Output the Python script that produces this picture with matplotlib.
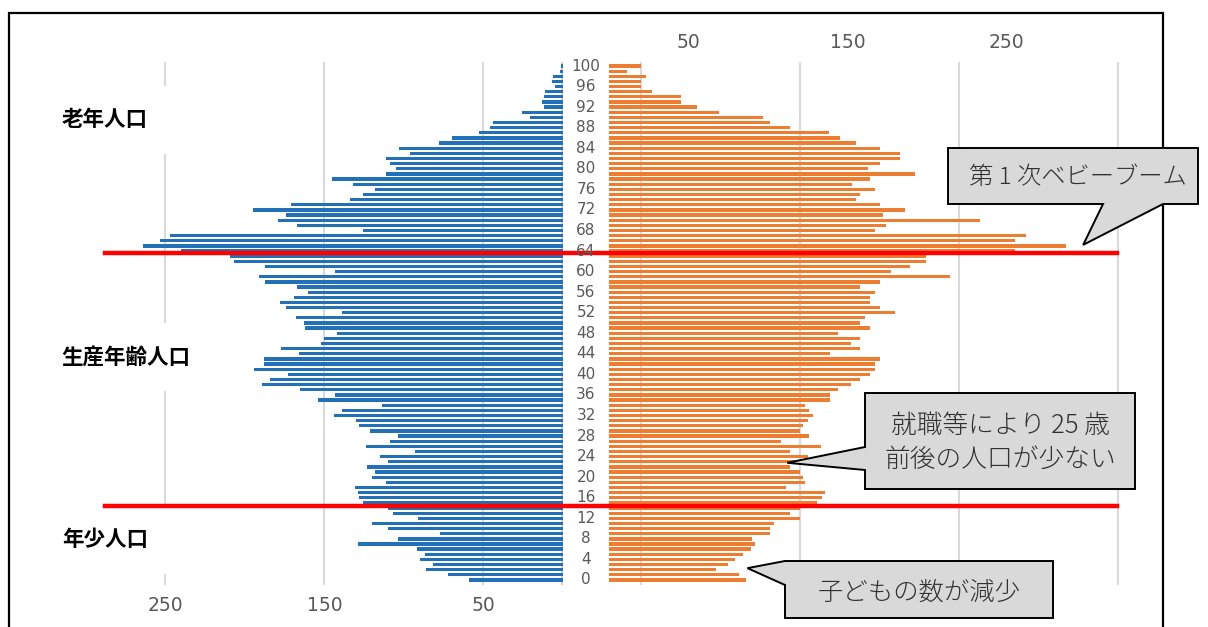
import numpy as np
import matplotlib
matplotlib.use("Agg")
import matplotlib.pyplot as plt
from matplotlib import transforms
from matplotlib.lines import Line2D
from matplotlib.patches import Polygon, Rectangle

plt.rcParams['font.family'] = ['Noto Sans CJK JP', 'DejaVu Sans']

# ---- data (age 0 .. 100) ----
ages = np.arange(0, 101)

male = [59, 72, 86, 82, 90, 87, 92, 129, 104, 77,      # 0-9
        110, 120, 91, 107, 110, 126, 128, 129, 131, 111,  # 10-19
        120, 118, 123, 110, 115, 93, 124, 109, 104, 121,  # 20-29
        128, 130, 144, 139, 114, 154, 143, 165, 189, 184,  # 30-39
        173, 194, 188, 188, 166, 177, 152, 150, 142, 162,  # 40-49
        163, 168, 139, 174, 178, 169, 160, 167, 187, 191,  # 50-59
        143, 187, 207, 209, 240, 264, 253, 247, 126, 167,  # 60-69
        179, 174, 195, 171, 134, 126, 118, 132, 145, 111,  # 70-79
        105, 109, 111, 96, 103, 78, 70, 53, 46, 44,        # 80-89
        21, 26, 12, 13, 12, 11, 5, 7, 6, 2, 1]             # 90-100

female = [86, 82, 67, 75, 79, 84, 89, 92, 90, 101,        # 0-9
          101, 104, 120, 114, 120, 131, 134, 136, 111, 123,  # 10-19
          122, 120, 114, 120, 125, 114, 133, 108, 126, 120,  # 20-29
          122, 125, 128, 126, 123, 139, 139, 144, 152, 158,  # 30-39
          164, 167, 167, 170, 139, 158, 152, 158, 144, 164,  # 40-49
          158, 161, 180, 170, 164, 164, 167, 158, 170, 214,  # 50-59
          177, 189, 199, 199, 255, 287, 255, 262, 167, 174,  # 60-69
          233, 172, 186, 170, 155, 158, 167, 153, 164, 192,  # 70-79
          163, 170, 183, 183, 170, 155, 145, 138, 114, 101,  # 80-89
          97, 69, 55, 45, 45, 27, 20, 20, 23, 11, 20]        # 90-100

age_ticks = list(range(0, 101, 4))
left_ticks = [250, 150, 50]
right_labels = [50, 150, 250]
right_grid = [20, 120, 220, 320]

group_labels = ["老年人口", "生産年齢人口", "年少人口"]
group_label_age = [89.5, 43.4, 7.8]
boundaries = [63.6, 14.4]

blue = "#2271b8"
orange = "#ed7d31"
grid_c = "#d9d9d9"
tick_c = "#595959"
num_font = ['Liberation Sans Narrow', 'DejaVu Sans']

W, H = 1208, 627
fig = plt.figure(figsize=(W / 100, H / 100), dpi=100)


def fbox(x0, x1, y_top, y_bot):
    return [x0 / W, 1 - y_bot / H, (x1 - x0) / W, (y_bot - y_top) / H]


y_lo, y_hi = -0.9, 100.8
ax_l = fig.add_axes(fbox(22, 563, 61.9, 584.6))
ax_r = fig.add_axes(fbox(609, 1150, 61.9, 584.6))

ax_l.barh(ages, male, height=0.64, color=blue, zorder=2)
ax_r.barh(ages, female, height=0.64, color=orange, zorder=2)

for ax in (ax_l, ax_r):
    ax.set_ylim(y_lo, y_hi)
    ax.set_yticks([])
    for s in ax.spines.values():
        s.set_visible(False)
    ax.tick_params(length=0, labelcolor=tick_c, labelsize=13.5)
    ax.set_facecolor("none")

ax_l.set_xlim(340, 0)
ax_l.set_xticks(left_ticks)
ax_l.set_xticklabels([str(v) for v in left_ticks], fontfamily=num_font)
ax_l.tick_params(axis='x', pad=8)
ax_l.grid(axis='x', color=grid_c, lw=1.5, zorder=0)
ax_l.axvline(0, color="#d0d0d0", lw=3, zorder=1)

ax_r.set_xlim(0, 340)
ax_r.xaxis.set_ticks_position('top')
ax_r.set_xticks(right_labels)
ax_r.set_xticklabels([str(v) for v in right_labels], fontfamily=num_font)
ax_r.set_xticks(right_grid, minor=True)
ax_r.tick_params(axis='x', which='both', length=0, pad=7)
ax_r.grid(axis='x', which='minor', color=grid_c, lw=1.5, zorder=0)
ax_r.grid(axis='x', which='major', visible=False)

# age labels in the gap
tr_age = transforms.blended_transform_factory(fig.transFigure, ax_l.transData)
for a in age_ticks:
    fig.text(586 / W, a, str(a), transform=tr_age, ha='center', va='center',
             fontsize=11, color=tick_c, fontfamily=num_font)

# group labels (white boxes hide the gridline)
for lab, a in zip(group_labels, group_label_age):
    ax_l.text(315, a, lab, ha='left', va='center', fontsize=15.5,
              fontweight='bold', color='black', zorder=3,
              bbox=dict(facecolor='white', edgecolor='none', pad=17))

# red boundary lines
for b in boundaries:
    fig.add_artist(Line2D([105 / W, 1117 / W], [b, b], transform=tr_age,
                          color='red', lw=3.2, zorder=3))

# outer frame
fig.add_artist(Rectangle((9 / W, -0.05), (1163 - 9) / W, 1 - 13 / H + 0.05,
                         transform=fig.transFigure, fill=False,
                         edgecolor='black', lw=1.6, zorder=0.5))


def callout(pts, tip_xy, tip_idx, text, tx, ty, size):
    tip = ax_r.transData.transform(tip_xy)
    tip = (tip[0], H - tip[1])
    pts = list(pts)
    pts.insert(tip_idx, tip)
    poly = [(px / W, 1 - py / H) for px, py in pts]
    fig.add_artist(Polygon(poly, closed=True, transform=fig.transFigure,
                           facecolor='#d9d9d9', edgecolor='black', lw=1.4,
                           zorder=5))
    fig.text(tx / W, 1 - ty / H, text, ha='center', va='center',
             fontsize=size, color='#303030', zorder=6, linespacing=1.4,
             fontweight='light')


callout([(948, 148), (1198, 148), (1198, 204), (1163, 204), (1103, 204),
         (948, 204)], (298, 65.2), 4, "第 1 次ベビーブーム", 1078, 177, 17.5)
callout([(865, 393), (1135, 393), (1135, 489), (865, 489), (865, 470),
         (865, 447)], (112, 22.8), 5, "就職等により 25 歳\n前後の人口が少ない",
        1000, 443, 18.5)
callout([(785, 561), (1053, 561), (1053, 618), (785, 618), (785, 585)],
        (87, 2.3), 5, "子どもの数が減少", 919, 592, 18.3)

fig.savefig("out.png", dpi=100)
